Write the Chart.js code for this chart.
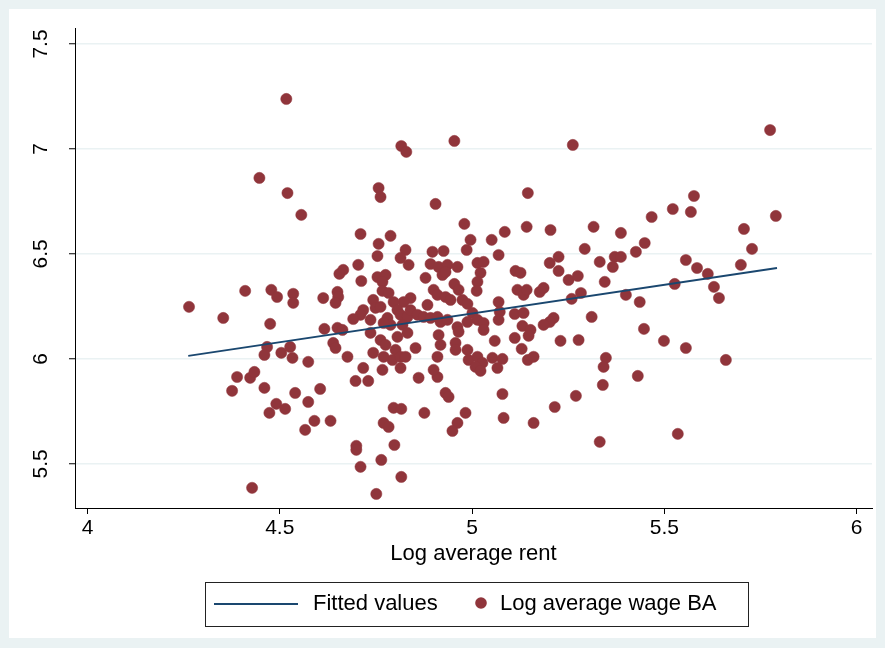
<!DOCTYPE html>
<html>
<head>
<meta charset="utf-8">
<script src="https://cdn.jsdelivr.net/npm/chart.js@4/dist/chart.umd.min.js"></script>
<style>
  html, body { margin: 0; padding: 0; background: #eaf2f3; }
  #wrap { width: 885px; height: 648px; }
</style>
</head>
<body>
<div id="wrap"><canvas id="rentChart" width="885" height="648"></canvas></div>
<script>
// Log average rent (x) and log average wage BA (y), one entry per area
const rentLog = [
  4.264, 4.353, 4.410, 4.478, 4.493, 4.535, 4.535, 4.613, 4.475, 4.616,
  4.467, 4.460, 4.504, 4.527, 4.533, 4.574, 4.389, 4.423, 4.434, 4.376,
  4.460, 4.491, 4.514, 4.473, 4.540, 4.574, 4.605, 4.590, 4.566, 4.632,
  4.428, 4.517, 4.447, 4.520, 4.556, 4.816, 4.829, 4.954, 4.757, 4.762,
  4.905, 4.980, 4.710, 4.757, 4.788, 4.827, 4.897, 4.926, 4.986, 4.996,
  5.051, 5.262, 5.145, 5.142, 5.085, 5.204, 5.316, 5.387, 5.293, 5.449,
  5.426, 5.775, 5.577, 5.522, 5.569, 5.467, 5.790, 5.707, 5.728, 5.556,
  5.585, 5.613, 5.699, 5.527, 5.629, 5.642, 5.499, 5.556, 5.660, 5.535,
  5.079, 5.082, 5.160, 5.215, 5.270, 5.340, 5.332, 5.431, 4.697, 4.730,
  4.796, 4.816, 4.876, 4.983, 4.931, 4.939, 4.861, 4.910, 4.770, 4.783,
  4.962, 4.949, 4.699, 4.699, 4.798, 4.764, 4.710, 4.816, 4.751, 5.069,
  5.225, 5.202, 5.225, 5.332, 5.371, 5.387, 5.366, 5.113, 5.126, 5.118,
  5.134, 5.142, 5.176, 5.186, 5.251, 5.275, 5.259, 5.283, 5.345, 5.400,
  5.436, 5.069, 5.072, 5.069, 5.111, 5.134, 5.311, 5.212, 5.202, 5.186,
  5.131, 5.152, 5.147, 5.447, 5.059, 5.111, 5.230, 5.277, 5.129, 5.145,
  5.160, 5.053, 5.079, 5.066, 5.348, 5.342,
  4.754, 4.814, 4.835, 4.704, 4.665, 4.655, 4.754, 4.775, 4.767, 4.712,
  4.892, 4.913, 4.936, 4.962, 4.923, 4.931, 4.879, 5.014, 5.030, 5.022,
  5.014, 5.012, 4.954, 4.965, 4.650, 4.652, 4.645, 4.767, 4.783, 4.900,
  4.910, 4.931, 4.944, 4.975, 4.988, 4.840, 4.822, 4.743, 4.749, 4.762,
  4.717, 4.710, 4.691, 4.884, 4.796, 4.806, 4.814, 4.832, 4.840, 4.858,
  4.874, 4.892, 4.910, 4.918, 4.936, 4.780, 4.788, 4.819, 4.832, 4.806,
  4.770, 4.736, 5.001, 5.014, 4.988, 5.030, 4.962, 4.965, 5.030, 4.650,
  4.663, 4.736, 4.762, 4.775, 4.801, 4.793, 4.770, 4.743, 4.814, 4.827,
  4.853, 4.913, 4.918, 4.957, 4.957, 4.910, 4.988, 4.991, 5.014, 5.027,
  5.009, 4.639, 4.645, 4.676, 4.717, 4.767, 4.814, 4.900, 5.022
];

const wageLog = [
  6.248, 6.195, 6.324, 6.329, 6.295, 6.310, 6.267, 6.290, 6.167, 6.143,
  6.057, 6.019, 6.029, 6.057, 6.005, 5.986, 5.914, 5.910, 5.938, 5.848,
  5.862, 5.786, 5.762, 5.743, 5.838, 5.795, 5.857, 5.705, 5.662, 5.705,
  5.386, 7.238, 6.862, 6.790, 6.686, 7.014, 6.986, 7.038, 6.814, 6.771,
  6.738, 6.643, 6.595, 6.548, 6.586, 6.519, 6.510, 6.514, 6.519, 6.567,
  6.567, 7.019, 6.790, 6.629, 6.605, 6.614, 6.629, 6.600, 6.524, 6.552,
  6.510, 7.090, 6.776, 6.714, 6.700, 6.676, 6.681, 6.619, 6.524, 6.471,
  6.433, 6.405, 6.448, 6.357, 6.343, 6.290, 6.086, 6.052, 5.995, 5.643,
  5.833, 5.719, 5.695, 5.771, 5.824, 5.876, 5.605, 5.919, 5.895, 5.895,
  5.767, 5.762, 5.743, 5.743, 5.838, 5.819, 5.910, 5.914, 5.695, 5.676,
  5.695, 5.657, 5.586, 5.567, 5.590, 5.519, 5.486, 5.438, 5.357, 6.495,
  6.486, 6.457, 6.419, 6.462, 6.486, 6.486, 6.438, 6.419, 6.410, 6.329,
  6.305, 6.329, 6.319, 6.338, 6.376, 6.395, 6.286, 6.314, 6.367, 6.305,
  6.271, 6.271, 6.224, 6.186, 6.214, 6.219, 6.200, 6.195, 6.176, 6.162,
  6.157, 6.138, 6.110, 6.143, 6.086, 6.100, 6.086, 6.090, 6.048, 5.995,
  6.010, 6.005, 6.000, 5.957, 6.005, 5.962,
  6.490, 6.481, 6.448, 6.448, 6.424, 6.405, 6.390, 6.400, 6.367, 6.371,
  6.452, 6.438, 6.448, 6.438, 6.400, 6.414, 6.386, 6.457, 6.462, 6.410,
  6.367, 6.324, 6.357, 6.329, 6.319, 6.295, 6.267, 6.324, 6.314, 6.329,
  6.305, 6.295, 6.281, 6.281, 6.262, 6.290, 6.271, 6.281, 6.243, 6.248,
  6.233, 6.210, 6.190, 6.257, 6.271, 6.233, 6.210, 6.200, 6.233, 6.210,
  6.200, 6.195, 6.200, 6.176, 6.186, 6.195, 6.162, 6.162, 6.124, 6.105,
  6.171, 6.186, 6.219, 6.186, 6.176, 6.171, 6.152, 6.129, 6.138, 6.148,
  6.138, 6.124, 6.090, 6.067, 6.043, 5.995, 6.010, 6.029, 6.010, 6.010,
  6.052, 6.114, 6.067, 6.076, 6.043, 6.010, 6.043, 5.995, 6.010, 5.981,
  5.962, 6.076, 6.052, 6.010, 5.957, 5.948, 5.957, 5.948, 5.943
];

// Fitted values (linear fit), end points
const fitRent = [4.262, 5.793];
const fitWage = [6.014, 6.433];

const xTicks = [4, 4.5, 5, 5.5, 6];
const yTicks = [5.5, 6, 6.5, 7, 7.5];

const navy = '#1a476f';
const maroon = '#90353b';
const grid = '#eaf2f3';
const fontFamily = '"Liberation Sans", Arial, Helvetica, sans-serif';

const scatterPts = rentLog.map((x, i) => ({ x: x, y: wageLog[i] }));
const fitPts = fitRent.map((x, i) => ({ x: x, y: fitWage[i] }));

// frame + white graph region
const backgroundPlugin = {
    id: 'stataBackground',
    beforeDraw(chart) {
        const ctx = chart.ctx;
        ctx.save();
        ctx.fillStyle = grid;
        ctx.fillRect(0, 0, chart.width, chart.height);
        ctx.fillStyle = '#ffffff';
        ctx.fillRect(9, 9, chart.width - 18, chart.height - 19);
        ctx.restore();
    }
};

// boxed legend below the axis title
const legendPlugin = {
    id: 'stataLegend',
    afterDraw(chart) {
        const ctx = chart.ctx;
        ctx.save();
        ctx.fillStyle = '#ffffff';
        ctx.fillRect(205, 582, 543, 44);
        ctx.strokeStyle = '#222222';
        ctx.lineWidth = 1;
        ctx.strokeRect(205.5, 582.5, 543, 44);

        ctx.strokeStyle = navy;
        ctx.lineWidth = 1.8;
        ctx.beginPath();
        ctx.moveTo(214, 604);
        ctx.lineTo(298, 604);
        ctx.stroke();

        ctx.fillStyle = maroon;
        ctx.beginPath();
        ctx.arc(481, 603, 5.8, 0, Math.PI * 2);
        ctx.fill();

        ctx.fillStyle = '#000000';
        ctx.font = '22px ' + fontFamily;
        ctx.textBaseline = 'middle';
        ctx.textAlign = 'left';
        ctx.fillText(chart.data.datasets[0].label, 313, 604);
        ctx.fillText(chart.data.datasets[1].label, 500, 604);
        ctx.restore();
    }
};

const canvas = document.getElementById('rentChart');
new Chart(canvas.getContext('2d'), {
    type: 'scatter',
    data: {
        datasets: [
            {
                type: 'line',
                label: 'Fitted values',
                data: fitPts,
                borderColor: navy,
                borderWidth: 1.8,
                pointRadius: 0,
                fill: false,
                tension: 0
            },
            {
                label: 'Log average wage BA',
                data: scatterPts,
                backgroundColor: maroon,
                borderColor: maroon,
                borderWidth: 0.5,
                pointRadius: 5.6,
                pointHoverRadius: 5.6
            }
        ]
    },
    options: {
        responsive: false,
        animation: false,
        events: [],
        layout: { padding: { top: 28, right: 13, bottom: 0, left: 0 } },
        plugins: {
            legend: { display: false },
            tooltip: { enabled: false }
        },
        scales: {
            x: {
                type: 'linear',
                min: 3.9675,
                max: 6.040,
                afterFit: (scale) => { scale.height = 140; },
                afterBuildTicks: (scale) => { scale.ticks = xTicks.map(v => ({ value: v })); },
                grid: { drawOnChartArea: false, tickLength: 6, tickColor: '#000000', tickWidth: 1 },
                border: { display: true, color: '#000000', width: 1 },
                ticks: {
                    color: '#000000',
                    padding: 2,
                    maxRotation: 0,
                    font: { family: fontFamily, size: 21 },
                    callback: (v) => String(v)
                },
                title: {
                    display: true,
                    text: 'Log average rent',
                    color: '#000000',
                    font: { family: fontFamily, size: 22 },
                    padding: { top: 0, bottom: 81 }
                }
            },
            y: {
                type: 'linear',
                min: 5.29,
                max: 7.576,
                afterFit: (scale) => { scale.width = 75; },
                afterBuildTicks: (scale) => { scale.ticks = yTicks.map(v => ({ value: v })); },
                grid: { color: grid, lineWidth: 1.5, tickLength: 6, tickColor: '#000000', tickWidth: 1 },
                border: { display: true, color: '#000000', width: 1 },
                ticks: {
                    color: '#000000',
                    padding: 13,
                    minRotation: 90,
                    maxRotation: 90,
                    crossAlign: 'center',
                    font: { family: fontFamily, size: 21 },
                    callback: (v) => String(v)
                }
            }
        }
    },
    plugins: [backgroundPlugin, legendPlugin]
});
</script>
</body>
</html>
